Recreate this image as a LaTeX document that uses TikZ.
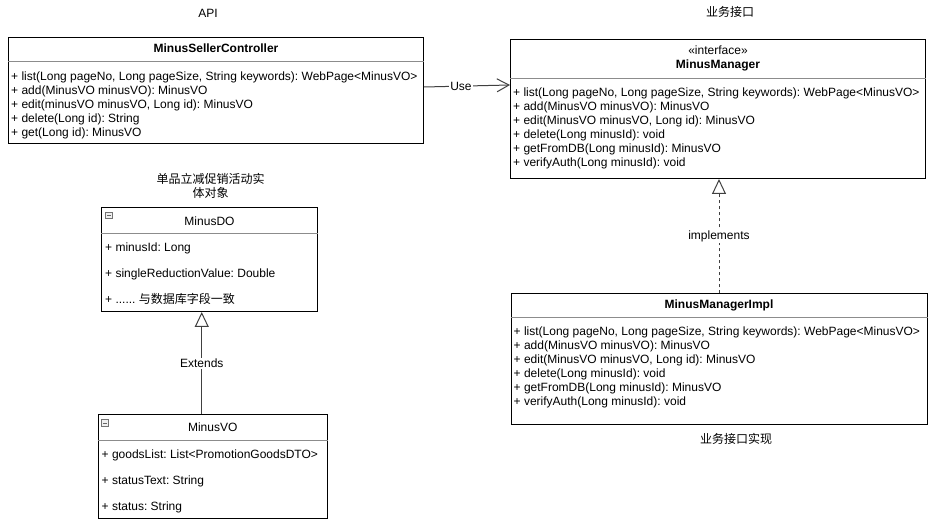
\documentclass[tikz,border=0pt]{standalone}
\usepackage{fontspec}
\setmainfont{Liberation Sans}
\newfontfamily\cjk{Noto Sans CJK SC}
\usetikzlibrary{arrows.meta,calc,positioning}
\newcommand\sixdots{......}
\frenchspacing

\tikzset{
  txt/.style={inner sep=0pt, font=\fontsize{12pt}{14pt}\selectfont},
  classname/.style={inner sep=0pt, anchor=base, font=\fontsize{12pt}{14pt}\selectfont\bfseries},
  classbox/.style={draw, line width=1pt, inner sep=0pt, anchor=north west},
  sepline/.style={draw=black!45, line width=1pt},
  member/.style={txt, anchor=base west},
  boxicon/.style={draw=black!55, fill=black!6, line width=0.7pt, minimum size=6.5pt, inner sep=0pt},
  uses/.style={draw=black!75, line width=1pt, -{Straight Barb[length=12pt,width=13pt,line width=1pt]}},
  inherits/.style={draw=black!75, line width=1pt, -{Triangle[open,length=15pt,width=14pt,line width=1pt]}},
  realizes/.style={inherits, dash pattern=on 3pt off 3pt},
  edgelabel/.style={txt, fill=white, inner sep=1pt},
}

\begin{document}
\begin{tikzpicture}[x=1pt,y=-1pt]
\useasboundingbox (0,0) rectangle (930,526);

% layer titles
\node[txt, anchor=base] (api)  at (208,17.5)    {API};
\node[txt, anchor=base] (svc)  at (730,17)      {\cjk 业务接口};
\node[txt, anchor=base] (impllabel) at (736,444) {\cjk 业务接口实现};
\node[txt, anchor=base] (dolabel) at (210.5,184) {\cjk 单品立减促销活动实};
\node[txt, anchor=base] (dolabel2) at ($(dolabel.base)+(0,13.5)$) {\cjk 体对象};

% controller
\node[classbox, minimum width=415pt, minimum height=106pt] (ctl) at (8,37) {};
\draw[sepline] ($(ctl.north west)+(0,24.5)$) -- ($(ctl.north east)+(0,24.5)$);
\node[classname] (ctl-name) at ($(ctl.north)+(0,15.5)$) {MinusSellerController};
\foreach \m [count=\i from 0] in {{+ list(Long pageNo, Long pageSize, String keywords): WebPage<MinusVO>},
    {+ add(MinusVO minusVO): MinusVO}, {+ edit(minusVO minusVO, Long id): MinusVO},
    {+ delete(Long id): String}, {+ get(Long id): MinusVO}}
  \node[member] (ctl-m\i) at ($(ctl.north west)+(3,{43.5+14*\i})$) {\m};

% interface
\node[classbox, minimum width=415pt, minimum height=139pt] (mgr) at (510,39) {};
\draw[sepline] ($(mgr.north west)+(0,40)$) -- ($(mgr.north east)+(0,40)$);
\node[txt, anchor=base] (mgr-st) at ($(mgr.north)+(0,16)$) {«interface»};
\node[classname] (mgr-name) at ($(mgr.north)+(0,30)$) {MinusManager};
\foreach \m [count=\i from 0] in {{+ list(Long pageNo, Long pageSize, String keywords): WebPage<MinusVO>},
    {+ add(MinusVO minusVO): MinusVO}, {+ edit(MinusVO minusVO, Long id): MinusVO},
    {+ delete(Long minusId): void}, {+ getFromDB(Long minusId): MinusVO},
    {+ verifyAuth(Long minusId): void}}
  \node[member] (mgr-m\i) at ($(mgr.north west)+(3,{57.5+14*\i})$) {\m};

% implementation
\node[classbox, minimum width=416pt, minimum height=131pt] (impl) at (510.5,293.5) {};
\draw[sepline] ($(impl.north west)+(0,24)$) -- ($(impl.north east)+(0,24)$);
\node[classname] (impl-name) at ($(impl.north)+(0,15)$) {MinusManagerImpl};
\foreach \m [count=\i from 0] in {{+ list(Long pageNo, Long pageSize, String keywords): WebPage<MinusVO>},
    {+ add(MinusVO minusVO): MinusVO}, {+ edit(MinusVO minusVO, Long id): MinusVO},
    {+ delete(Long minusId): void}, {+ getFromDB(Long minusId): MinusVO},
    {+ verifyAuth(Long minusId): void}}
  \node[member] (impl-m\i) at ($(impl.north west)+(3,{42+14*\i})$) {\m};

% data object
\node[classbox, minimum width=216pt, minimum height=103.5pt] (do) at (101,207.5) {};
\draw[sepline] ($(do.north west)+(0,26.5)$) -- ($(do.north east)+(0,26.5)$);
\node[boxicon] (do-icon) at ($(do.north west)+(8,8)$) {};
\draw[black!60, line width=0.7pt] ($(do-icon.west)+(1.5,0)$) -- ($(do-icon.east)+(-1.5,0)$);
\node[txt, anchor=base] (do-name) at ($(do.north)+(0,18.5)$) {MinusDO};
\foreach \m [count=\i from 0] in {{+ minusId: Long}, {+ singleReductionValue: Double},
    {+ \sixdots{} {\cjk 与数据库字段一致}}}
  \node[member] (do-m\i) at ($(do.north west)+(4,{44.5+26*\i})$) {\m};

% view object
\node[classbox, minimum width=229.5pt, minimum height=104pt] (vo) at (97.5,414.5) {};
\draw[sepline] ($(vo.north west)+(0,26.5)$) -- ($(vo.north east)+(0,26.5)$);
\node[boxicon] (vo-icon) at ($(vo.north west)+(7.5,8.5)$) {};
\draw[black!60, line width=0.7pt] ($(vo-icon.west)+(1.5,0)$) -- ($(vo-icon.east)+(-1.5,0)$);
\node[txt, anchor=base] (vo-name) at ($(vo.north)+(0,17.5)$) {MinusVO};
\foreach \m [count=\i from 0] in {{+ goodsList: List<PromotionGoodsDTO>}, {+ statusText: String},
    {+ status: String}}
  \node[member] (vo-m\i) at ($(vo.north west)+(4,{44.5+26*\i})$) {\m};

% relations
\path[uses] ([yshift=3.5pt]ctl.east) -- node[edgelabel, pos=0.43] {Use} ([yshift=24pt]mgr.west);
\path[inherits] ([xshift=-11pt]vo.north) -- node[edgelabel] {Extends} ([xshift=-11pt]vo.north |- do.south);
\path[realizes] (impl.north) -- node[edgelabel] {implements} (impl.north |- mgr.south);
\end{tikzpicture}
\end{document}
